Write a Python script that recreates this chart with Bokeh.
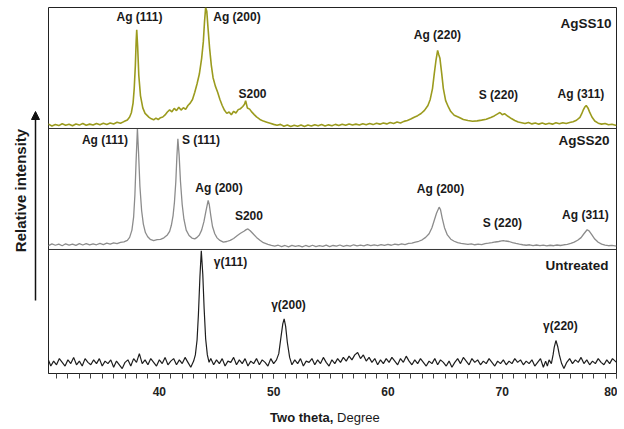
from math import pi
from bokeh.plotting import figure
from bokeh.layouts import row, column
from bokeh.models import Range1d, FixedTicker, Span, Label, Arrow, NormalHead
from bokeh.core.properties import value
from bokeh.embed import file_html
from bokeh.resources import INLINE

# ---------------- data (two theta in degrees, relative intensity 0-100 per panel) -------------
x_agss10 = [30.0, 30.3, 30.6, 30.9, 31.2, 31.5, 31.8, 32.1, 32.4, 32.7, 33.0, 33.3, 33.6, 33.9, 34.2,
            34.5, 34.8, 35.1, 35.4, 35.7, 36.0, 36.3, 36.6, 36.9, 37.2, 37.4, 37.55, 37.7, 37.8, 37.9,
            37.97, 38.02, 38.1, 38.2, 38.35, 38.55, 38.75, 39.1, 39.3, 39.5, 39.7, 39.9, 40.1, 40.3, 40.5,
            40.7, 40.9, 41.1, 41.3, 41.5, 41.7, 41.9, 42.1, 42.3, 42.5, 42.7, 42.9, 43.1, 43.3, 43.5,
            43.7, 43.85, 43.95, 44.05, 44.15, 44.25, 44.4, 44.55, 44.7, 44.9, 45.1, 45.3, 45.5, 45.7,
            45.9, 46.1, 46.3, 46.5, 46.7, 46.9, 47.1, 47.3, 47.45, 47.55, 47.7, 47.9, 48.1, 48.3, 48.5,
            48.8, 49.1, 49.4, 49.7, 50.0, 50.3, 50.6, 50.9, 51.2, 51.5, 51.8, 52.1, 52.4, 52.7, 53.0,
            53.3, 53.6, 53.9, 54.2, 54.5, 54.8, 55.1, 55.4, 55.7, 56.0, 56.3, 56.6, 56.9, 57.2, 57.5,
            57.8, 58.1, 58.4, 58.7, 59.0, 59.3, 59.6, 59.9, 60.2, 60.5, 60.8, 61.1, 61.4, 61.7, 62.0,
            62.3, 62.6, 62.9, 63.2, 63.5, 63.7, 63.9, 64.05, 64.2, 64.35, 64.45, 64.55, 64.7, 64.85,
            65.05, 65.3, 65.5, 65.8, 66.2, 66.6, 67.0, 67.4, 67.8, 68.2, 68.6, 69.0, 69.3, 69.6, 69.8,
            70.0, 70.2, 70.5, 70.8, 71.1, 71.4, 71.7, 72.0, 72.3, 72.6, 72.9, 73.2, 73.5, 73.8, 74.1,
            74.4, 74.7, 75.0, 75.3, 75.6, 75.9, 76.2, 76.5, 76.8, 76.95, 77.1, 77.25, 77.35, 77.5,
            77.65, 77.85, 78.1, 78.4, 78.7, 79.0, 79.3, 79.6, 80.0]
y_agss10 = [2.5, 3.6, 2.1, 3.3, 2.4, 3.9, 2.6, 3.5, 2.2, 3.7, 2.8, 4.1, 2.7, 3.6, 2.9,
            4.2, 3.1, 4.3, 3.3, 4.6, 3.7, 5.1, 4.3, 5.7, 7.0, 9.5, 13, 21, 33, 52,
            72, 81.6, 68, 44, 27, 17, 12.5, 9.2, 8.0, 7.2, 8.6, 7.4, 8.9, 9.5, 11.2,
            13.6, 15.4, 13.8, 16.6, 14.8, 17.6, 15.2, 17.2, 15.8, 19, 21, 24, 30, 37, 45,
            58, 72, 88, 100, 97, 84, 66, 52, 42, 35, 30, 24, 19, 15,
            12.5, 13.6, 11.4, 14.2, 12.8, 15.6, 16.4, 18.2, 20, 23, 17, 16, 13.5, 11.5, 9.6,
            7.5, 6.1, 5.2, 4.3, 3.4, 2.6, 3.4, 1.9, 2.9, 1.6, 2.6, 1.8, 2.9, 1.7, 2.8,
            2.0, 3.1, 2.2, 3.3, 2.1, 3.0, 2.3, 3.4, 2.4, 3.5, 2.6, 3.8, 2.8, 3.6, 2.9,
            4.0, 3.1, 4.2, 3.2, 4.4, 3.6, 4.6, 3.8, 4.9, 4.2, 5.3, 4.6, 5.9, 6.6, 7.8,
            9.3, 10.6, 12.4, 15, 19, 24, 33, 45, 56, 64.5, 61, 58, 46, 33,
            23, 17.6, 14, 11, 9.3, 7.5, 6.6, 6.0, 6.3, 6.9, 7.6, 9.1, 10.4, 12.1, 13.2,
            11.4, 12.2, 10.1, 8.2, 6.6, 5.3, 4.8, 4.1, 5.0, 3.8, 4.6, 3.6, 4.5, 3.5, 4.4,
            3.6, 4.7, 3.9, 4.8, 4.2, 5.0, 5.6, 6.8, 9.2, 12, 15.5, 18, 19, 17,
            13.5, 9.5, 6.2, 4.4, 3.6, 4.2, 3.1, 3.5, 2.5]

x_agss20 = [30.0, 30.3, 30.6, 30.9, 31.2, 31.5, 31.8, 32.1, 32.4, 32.7, 33.0, 33.3, 33.6, 33.9, 34.2,
            34.5, 34.8, 35.1, 35.4, 35.7, 36.0, 36.3, 36.6, 36.9, 37.2, 37.4, 37.6, 37.75, 37.86, 37.96,
            38.08, 38.18, 38.3, 38.45, 38.6, 38.78, 38.98, 39.2, 39.5, 39.8, 40.1, 40.4, 40.7, 40.9,
            41.05, 41.2, 41.32, 41.44, 41.53, 41.62, 41.73, 41.85, 42.0, 42.15, 42.35, 42.6, 42.85, 43.1,
            43.3, 43.5, 43.7, 43.9, 44.08, 44.27, 44.37, 44.5, 44.65, 44.85, 45.05, 45.3, 45.6, 45.9,
            46.2, 46.5, 46.8, 47.1, 47.4, 47.6, 47.75, 47.95, 48.2, 48.5, 48.8, 49.1, 49.5, 49.8, 50.1,
            50.4, 50.7, 51.0, 51.3, 51.6, 51.9, 52.2, 52.5, 52.8, 53.1, 53.4, 53.7, 54.0, 54.3, 54.6,
            54.9, 55.2, 55.5, 55.8, 56.1, 56.4, 56.7, 57.0, 57.3, 57.6, 57.9, 58.2, 58.5, 58.8, 59.1,
            59.4, 59.7, 60.0, 60.3, 60.6, 60.9, 61.2, 61.5, 61.8, 62.1, 62.4, 62.7, 63.0, 63.3, 63.6,
            63.85, 64.05, 64.25, 64.48, 64.6, 64.75, 64.95, 65.2, 65.5, 65.8, 66.1, 66.4, 66.7, 67.0,
            67.3, 67.6, 67.9, 68.2, 68.5, 68.8, 69.1, 69.4, 69.7, 69.95, 70.1, 70.3, 70.6, 70.9, 71.2,
            71.5, 71.8, 72.1, 72.4, 72.7, 73.0, 73.3, 73.6, 73.9, 74.2, 74.5, 74.8, 75.1, 75.4, 75.7,
            76.0, 76.3, 76.6, 76.9, 77.15, 77.43, 77.6, 77.85, 78.1, 78.4, 78.7, 79.0, 79.3, 79.6, 80.0]
y_agss20 = [4.1, 3.2, 4.6, 3.5, 4.4, 3.1, 4.7, 3.6, 4.5, 3.4, 4.8, 3.7, 4.9, 3.8, 4.6,
            3.9, 5.0, 4.1, 5.2, 4.4, 5.5, 4.8, 5.9, 6.3, 7.6, 10, 16, 27, 45, 72,
            100, 80, 52, 32, 21, 14, 10.5, 8.4, 7.3, 8.1, 8.4, 9.6, 12, 15,
            20, 28, 39, 56, 76, 91.5, 78, 56, 37, 25, 16, 11.5, 9.4, 8.8,
            10, 12, 16, 23, 32, 40.5, 37, 28, 19, 13, 9.6, 7.5, 6.1, 6.6,
            7.5, 9.1, 11.4, 13.4, 15.1, 16.4, 17, 15.5, 13, 10, 7.6, 5.6, 4.3, 3.4, 2.7,
            3.5, 2.4, 3.3, 2.2, 3.4, 2.5, 3.2, 2.1, 3.3, 2.4, 3.5, 2.3, 3.1, 2.5, 3.6,
            2.4, 3.3, 2.7, 3.7, 2.6, 3.4, 2.8, 3.9, 2.9, 3.6, 3.0, 4.0, 3.1, 3.8, 3.2,
            4.1, 3.4, 4.2, 3.5, 4.4, 3.9, 4.6, 4.1, 5.0, 5.2, 6.0, 6.8, 8.0, 10, 13,
            18, 24, 30, 35, 33, 26, 18, 12, 8.5, 6.8, 5.6, 5.0, 4.6, 4.2,
            4.6, 3.9, 4.4, 4.1, 4.9, 5.2, 5.6, 6.2, 6.6, 7.1, 7.4, 7.0, 6.6, 5.7, 5.0,
            4.4, 3.9, 3.5, 3.9, 3.2, 3.7, 3.1, 3.6, 3.0, 3.5, 3.1, 3.7, 3.3, 3.9, 4.3,
            5.0, 6.1, 7.6, 9.8, 13, 16.3, 15.4, 12, 8.6, 6.0, 4.4, 3.6, 3.1, 3.4, 2.8]

x_untreated = [30.0, 30.25, 30.5, 30.75, 31.0, 31.25, 31.5, 31.75, 32.0, 32.25, 32.5, 32.75, 33.0,
               33.25, 33.5, 33.75, 34.0, 34.25, 34.5, 34.75, 35.0, 35.25, 35.5, 35.75, 36.0, 36.25,
               36.5, 36.75, 37.0, 37.25, 37.5, 37.75, 38.0, 38.25, 38.5, 38.75, 39.0, 39.25, 39.5,
               39.75, 40.0, 40.25, 40.5, 40.75, 41.0, 41.25, 41.5, 41.75, 42.0, 42.25, 42.5, 42.75,
               43.0, 43.15, 43.3, 43.42, 43.55, 43.67, 43.8, 43.92, 44.05, 44.2, 44.35, 44.5, 44.75,
               45.0, 45.25, 45.5, 45.75, 46.0, 46.25, 46.5, 46.75, 47.0, 47.25, 47.5, 47.75, 48.0,
               48.25, 48.5, 48.75, 49.0, 49.25, 49.5, 49.75, 50.0, 50.25, 50.45, 50.65, 50.8, 50.92,
               51.05, 51.2, 51.4, 51.6, 51.85, 52.1, 52.35, 52.6, 52.85, 53.1, 53.35, 53.6, 53.85,
               54.1, 54.35, 54.6, 54.85, 55.1, 55.35, 55.6, 55.85, 56.1, 56.35, 56.6, 56.85, 57.1,
               57.35, 57.6, 57.85, 58.1, 58.35, 58.6, 58.85, 59.1, 59.35, 59.6, 59.85, 60.1, 60.35,
               60.6, 60.85, 61.1, 61.35, 61.6, 61.85, 62.1, 62.35, 62.6, 62.85, 63.1, 63.35, 63.6,
               63.85, 64.1, 64.35, 64.6, 64.85, 65.1, 65.35, 65.6, 65.85, 66.1, 66.35, 66.6, 66.85,
               67.1, 67.35, 67.6, 67.85, 68.1, 68.35, 68.6, 68.85, 69.1, 69.35, 69.6, 69.85, 70.1,
               70.35, 70.6, 70.85, 71.1, 71.35, 71.6, 71.85, 72.1, 72.35, 72.6, 72.85, 73.1, 73.35,
               73.6, 73.8, 73.95, 74.1, 74.3, 74.45, 74.55, 74.7, 74.85, 75.0, 75.2, 75.4, 75.65,
               75.9, 76.15, 76.4, 76.65, 76.9, 77.15, 77.4, 77.65, 77.9, 78.15, 78.4, 78.65, 78.9,
               79.15, 79.4, 79.65, 80.0]
y_untreated = [8, 12, 6, 10, 7, 12, 9, 6, 11, 8, 13, 7, 10,
               6, 12, 9, 7, 11, 8, 12, 6, 10, 8, 11, 5, 10,
               7, 4, 9, 11, 6, 12, 9, 16, 8, 11, 7, 12, 9,
               6, 11, 8, 13, 7, 10, 12, 7, 11, 8, 13, 9, 5,
               10, 15, 27, 48, 78, 99, 80, 52, 28, 15, 9, 12, 7,
               11, 8, 12, 6, 10, 9, 13, 7, 11, 8, 12, 6, 10,
               8, 12, 7, 11, 9, 6, 12, 8, 11, 16, 30, 40, 44,
               38, 25, 13, 7, 11, 8, 12, 6, 10, 9, 12, 7, 11,
               8, 13, 9, 6, 11, 8, 12, 9, 13, 10, 14, 11, 15,
               17, 12, 15, 10, 13, 9, 12, 7, 11, 8, 12, 9, 13,
               10, 7, 12, 9, 14, 10, 7, 11, 8, 12, 9, 6, 10,
               8, 12, 7, 11, 9, 6, 10, 5, 9, 12, 8, 13, 10,
               7, 12, 9, 11, 7, 10, 8, 12, 9, 6, 10, 8, 11,
               7, 10, 8, 12, 9, 11, 7, 10, 8, 11, 6, 9, 12,
               5, 10, 6, 11, 8, 15, 21, 26.6, 22, 15, 8, 4, 9,
               12, 8, 11, 9, 13, 8, 11, 7, 10, 8, 12, 9, 7,
               11, 8, 12, 9]

x_ticks = [40, 50, 60, 70, 80]
x_tick_labels = ["40", "50", "60", "70", "80"]

# peak annotations: (text, two theta, height in panel)
labels_agss10 = [("Ag (111)", 38.26, 92.0), ("Ag (200)", 46.79, 92.0), ("S200", 48.15, 28.1),
                 ("Ag (220)", 64.33, 76.9), ("S (220)", 69.67, 27.3), ("Ag (311)", 76.89, 28.1)]
labels_agss20 = [("Ag (111)", 35.24, 90.5), ("S (111)", 43.64, 90.5), ("Ag (200)", 45.22, 50.8),
                 ("S200", 47.84, 27.3), ("Ag (200)", 64.6, 50.2), ("S (220)", 70.02, 22.3),
                 ("Ag (311)", 77.28, 28.7)]
labels_untreated = [("γ(111)", 46.22, 89.8), ("γ(200)", 51.3, 55.4), ("γ(220)", 75.09, 38.7)]
sample_names = [("AgSS10", 77.33, 86.5), ("AgSS20", 77.15, 90.1), ("Untreated", 76.54, 87.1)]

FONT = "Liberation Sans"
TXT = "#1a1a1a"

# ---------------- main plot ----------------
xr = Range1d(30.3, 80)
p = figure(width=570, height=400, x_range=xr, y_range=Range1d(0, 295.2),
           output_backend="svg", toolbar_location=None,
           min_border_left=1, min_border_right=1, min_border_top=7, min_border_bottom=27)
p.extra_y_ranges = {"top": Range1d(-202.5, 100), "mid": Range1d(-102.5, 200)}
p.background_fill_color = "white"
p.border_fill_color = "white"
p.outline_line_color = "#222222"
p.outline_line_width = 1
p.xgrid.visible = False
p.ygrid.visible = False
p.yaxis.visible = False

p.xaxis.ticker = FixedTicker(ticks=x_ticks, minor_ticks=list(range(31, 81)))
p.xaxis.major_label_overrides = {t: l for t, l in zip(x_ticks, x_tick_labels)}
p.xaxis.major_label_text_font = FONT
p.xaxis.major_label_text_font_style = "bold"
p.xaxis.major_label_text_font_size = "12px"
p.xaxis.major_label_text_color = "#222222"
p.xaxis.major_label_standoff = 8
p.xaxis.major_tick_in = 0
p.xaxis.major_tick_out = 5
p.xaxis.minor_tick_in = 0
p.xaxis.minor_tick_out = 5
p.xaxis.axis_line_color = "#222222"
p.xaxis.major_tick_line_color = "#444444"
p.xaxis.minor_tick_line_color = "#444444"

p.line(x_agss10, y_agss10, y_range_name="top", line_color="#9b9b1e", line_width=1.6)
p.line(x_agss20, y_agss20, y_range_name="mid", line_color="#8c8c8c", line_width=1.3)
p.line(x_untreated, y_untreated, line_color="#1e1e1e", line_width=1.2)

p.add_layout(Span(location=0, dimension="width", y_range_name="top", line_color="#333333", line_width=1))
p.add_layout(Span(location=0, dimension="width", y_range_name="mid", line_color="#333333", line_width=1))


def add_labels(items, rng, size="12px"):
    for text, x, y in items:
        kw = {} if rng is None else {"y_range_name": rng}
        p.add_layout(Label(x=x, y=y, text=text, text_font=FONT, text_font_style="bold",
                           text_font_size=size, text_color=TXT, text_align="center",
                           text_baseline="middle", **kw))


add_labels(labels_agss10, "top")
add_labels(labels_agss20, "mid")
add_labels(labels_untreated, None)
add_labels([sample_names[0]], "top", "13.5px")
add_labels([sample_names[1]], "mid", "13.5px")
add_labels([sample_names[2]], None, "13.5px")

# ---------------- left strip: y title and arrow ----------------
left = figure(width=47, height=425, x_range=Range1d(0, 47), y_range=Range1d(0, 425),
              output_backend="svg", toolbar_location=None, min_border=0)
left.axis.visible = False
left.grid.visible = False
left.outline_line_color = None
left.text(x=[20], y=[235], text=["Relative intensity"], angle=pi / 2, text_font=value(FONT),
          text_font_style="bold", text_font_size="15px", text_color=TXT,
          text_align="center", text_baseline="middle")
left.add_layout(Arrow(end=NormalHead(size=8, fill_color="#111111", line_color="#111111"),
                      x_start=35, y_start=125, x_end=35, y_end=314,
                      line_color="#111111", line_width=1.5))

# ---------------- bottom strip: x title ----------------
bottom = figure(width=570, height=25, x_range=xr, y_range=Range1d(0, 25),
                output_backend="svg", toolbar_location=None,
                min_border_left=1, min_border_right=1, min_border_top=0, min_border_bottom=0)
bottom.axis.visible = False
bottom.grid.visible = False
bottom.outline_line_color = None
bottom.text(x=[55.23], y=[8], text=["Two theta,"], text_font=value(FONT), text_font_style="bold",
            text_font_size="13px", text_color=TXT, text_align="right", text_baseline="middle")
bottom.text(x=[55.55], y=[8], text=["Degree"], text_font=value(FONT), text_font_style="normal",
            text_font_size="13px", text_color=TXT, text_align="left", text_baseline="middle")

layout = row(left, column(p, bottom, spacing=0), spacing=0)
open("out.html", "w").write(file_html(layout, INLINE))
